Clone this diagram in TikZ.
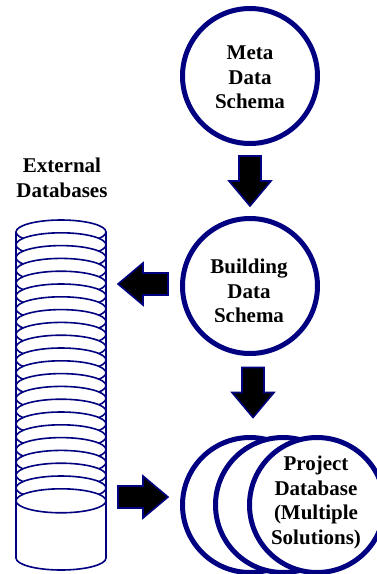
\documentclass[tikz,border=0pt]{standalone}
\usepackage{fontspec}
\setmainfont{Liberation Serif}
\usepackage{tikz}
\usetikzlibrary{calc}
\usetikzlibrary{positioning}
\definecolor{schemanavy}{RGB}{0,0,128}

\begin{document}
\begin{tikzpicture}[x=1pt, y=-1pt,
        ring/.style={circle, draw=schemanavy, fill=white, line width=5pt, minimum size=135pt, inner sep=0pt},
        label/.style={font=\bfseries\fontsize{21}{24.5}\selectfont, align=center, inner sep=0pt, anchor=north},
        dbline/.style={draw=schemanavy, line width=1.6pt},
        blockfill/.style={draw=schemanavy, fill=black, line width=1.6pt, line join=miter},
        pics/blockarrow/.style={code={
            \draw[blockfill] (-25,-11) -- (0,-11) -- (0,-21) -- (25,0) -- (0,21) -- (0,11) -- (-25,11) -- cycle;
        }}
      ]
        \useasboundingbox (0,0) rectangle (377,574);
        \clip (0,0) rectangle (377,574);

        % schema circles
        \node[ring]  (meta)   at (250,76)                                           {};
        \node[ring]  (build)  at (250,286)                                          {};
        \node[ring]  (proj1)  at (250,505)                                          {};
        \node[ring]  (proj2)  at (283,505)                                          {};
        \node[ring]  (proj3)  at (317,505)                                          {};

        \begin{scope}
          \clip (180,0) rectangle (320,107);
          \node[label]  (metatext)   at (250,46)    {Meta\\Data\\Schema};
        \end{scope}
        \begin{scope}
          \clip (180,216) rectangle (320,321);
          \node[label]  (buildtext)  at (249,259)   {Building\\Data\\Schema};
        \end{scope}
        \node[label]  (projtext)   at (316,456)   {Project\\Database\\(Multiple\\Solutions)};

        % external databases
        \node[label]  (exttext)    at (62,158)    {External\\Databases};
        \draw[dbline] (61,558) ellipse [x radius=45, y radius=12];
        \fill[white] (16,232) rectangle (106,558);
        \draw[dbline] (16,232) -- (16,558);
        \draw[dbline] (106,232) -- (106,558);
        \foreach \i in {0,...,21}
          \filldraw[dbline, fill=white] (61,{232+\i*12.8}) ellipse [x radius=45, y radius=12];
        \coordinate (dbtop) at (106,284);
        \coordinate (dbbot) at (106,497);

        % arrows
        \pic[rotate=-90] at ($(meta.south)!0.5!(build.north)$)                   {blockarrow};
        \pic[rotate=180] at ($(dbtop)!0.5!(build.west |- dbtop)$)                {blockarrow};
        \pic[rotate=-90] at ([xshift=3pt, yshift=3pt]$(build.south)!0.5!(proj1.north)$) {blockarrow};
        \pic             at ($(dbbot)!0.5!(proj1.west |- dbbot)$)                {blockarrow};
      \end{tikzpicture}
\end{document}
